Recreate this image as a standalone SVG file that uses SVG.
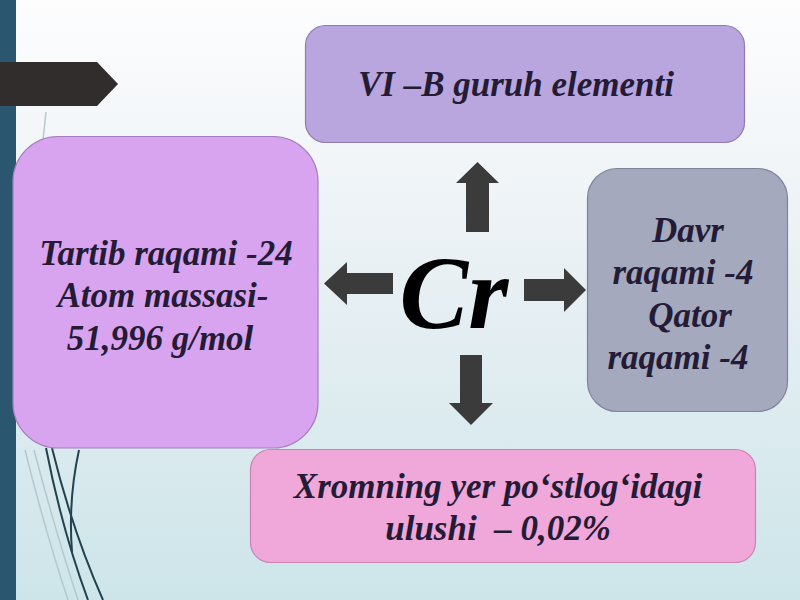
<svg xmlns="http://www.w3.org/2000/svg" width="800" height="600" viewBox="0 0 800 600">
<defs>
<linearGradient id="bg" x1="0" y1="0" x2="0" y2="1">
<stop offset="0" stop-color="#fdfdfe"/>
<stop offset="0.45" stop-color="#e9f0f4"/>
<stop offset="1" stop-color="#cde5e9"/>
</linearGradient>
<style>
.t{font-family:"Liberation Serif","Times New Roman",serif;font-weight:bold;font-style:italic;font-size:35px;fill:#241c36;text-anchor:middle}
.arr{fill:#3b3b3b}
.deco{fill:none;stroke:#22424e;stroke-width:2}
.faint{fill:none;stroke:#b4c8cf;stroke-width:1.5}
</style>
</defs>
<rect width="800" height="600" fill="url(#bg)"/>
<rect x="0" y="0" width="16" height="600" fill="#2b5670"/>
<path d="M0 62 H97 L118 84 L97 106 H0 Z" fill="#312d2d"/>
<g id="decor">
<path class="faint" d="M46 112 L43 140"/>
<path class="faint" d="M25 450 Q45 530 68 600"/>
<path class="faint" d="M34 450 Q55 530 78 600"/>
<path class="deco" d="M46 448 Q62 530 88 600"/>
<path class="deco" d="M52 448 Q72 530 103 600"/>
<path class="deco" d="M79 450 Q68 500 72 552"/>
</g>
<g id="connectors">
<path class="arr" d="M466 232 V183 H456 L477.5 162 L499 183 H489 V232 Z"/>
<path class="arr" d="M393 273 H347 V262 L324 283.5 L347 305 V294 H393 Z"/>
<path class="arr" d="M524 279 H564 V268 L586 290 L564 312 V301 H524 Z"/>
<path class="arr" d="M460 355 V403 H449 L471 425 L493 403 H482 V355 Z"/>
</g>
<g id="top">
<rect x="305.5" y="25.5" width="439" height="117" rx="20" fill="#b9a6de" stroke="#8f7bb2" stroke-width="1.2"/>
<text class="t" x="516" y="96">VI –B guruh elementi</text>
</g>
<g id="left">
<rect x="13" y="136.5" width="305" height="311.5" rx="45" fill="#d9a4ef" stroke="#a67dc0" stroke-width="1.2"/>
<text class="t" x="166" y="265">Tartib raqami -24</text>
<text class="t" x="163" y="307">Atom massasi-</text>
<text class="t" x="160" y="350">51,996 g/mol</text>
</g>
<g id="right">
<rect x="587.5" y="168.5" width="200" height="243" rx="30" fill="#a4a9be" stroke="#7f8499" stroke-width="1.2"/>
<text class="t" x="688" y="242">Davr</text>
<text class="t" x="683" y="284">raqami -4</text>
<text class="t" x="690" y="327">Qator</text>
<text class="t" x="678" y="369">raqami -4</text>
</g>
<g id="bottom">
<rect x="250.5" y="449.5" width="505" height="113" rx="20" fill="#f0a7d9" stroke="#cc82b3" stroke-width="1.2"/>
<text class="t" x="498" y="498">Xromning yer po‘stlog‘idagi</text>
<text class="t" x="498" y="540" xml:space="preserve">ulushi  – 0,02%</text>
</g>
<g id="center">
<text x="454" y="328" font-family="Liberation Serif, Times New Roman, serif" font-weight="bold" font-style="italic" font-size="103" fill="#000" text-anchor="middle">Cr</text>
</g>
</svg>
